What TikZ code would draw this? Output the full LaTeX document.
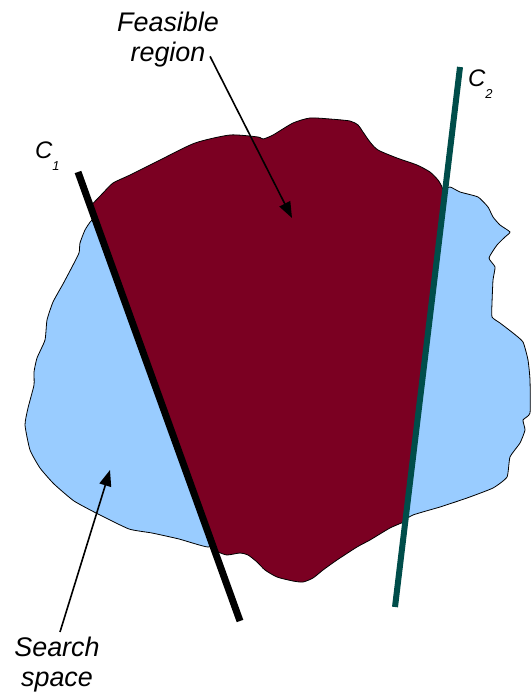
\documentclass[tikz,border=0pt]{standalone}
\usepackage{fontspec}
\setmainfont{Liberation Sans}
\usetikzlibrary{arrows.meta}
\definecolor{searchblue}{RGB}{153,204,255}
\definecolor{feasred}{RGB}{123,0,34}
\definecolor{cteal}{RGB}{0,77,74}
\newcommand{\csub}[1]{\raisebox{-12bp}{\fontsize{13}{13}\selectfont #1}}

\begin{document}
\begin{tikzpicture}[x=1bp,y=-1bp,
    tagtext/.style={font=\fontsize{27}{30}\selectfont\itshape,align=center,inner sep=0pt,anchor=north},
    ctext/.style={font=\fontsize{24}{24}\selectfont\itshape,inner sep=0pt,anchor=base west},
    pointer/.style={-{Triangle[length=16bp,width=12bp]},line width=1.6bp},
    arealine/.style={draw=black,line width=0.8bp,line join=round}]
\useasboundingbox (0,0) rectangle (531,693);
% search space
\draw[arealine,fill=searchblue] plot[smooth cycle,tension=0.3] coordinates {
  (92,220) (110,210) (150,180) (250,150) (350,140) (420,175) (440,190)
  (450,187) (460,192) (478,197) (488,207) (493,217) (500,225) (510,232)
  (505,237) (497,245) (489,258) (495,267) (493,280) (492,303) (492,317)
  (500,323) (513,333) (523,342) (528,360) (530,380) (530,413) (523,420)
  (525,430) (520,443) (510,457) (507,477) (493,488) (467,498) (440,507)
  (413,515) (395,525) (360,535) (300,555) (250,548) (225,540) (208,547)
  (179,539) (152,533) (129,529) (98,514) (74,501) (54,484) (40,468)
  (30,450) (25,425) (28,408) (34,385) (34,372) (37,358) (45,340) (47,320)
  (53,302) (63,284) (72,267) (79,253) (80,243) (85,230)};
% feasible region
\draw[arealine,fill=feasred] plot[smooth,tension=0.4] coordinates {
  (90.5,206) (103,193) (113,183) (130,175) (160,160) (195,143) (230,135)
  (258,137) (263,139) (273,135) (293,123) (310,118) (330,119) (350,121)
  (358,125) (363,132) (370,142) (378,150) (397,158) (417,165) (430,172)
  (438,180) (442,187) (444.5,196)}
  -- (404,522) -- plot[smooth,tension=0.4] coordinates {
  (404,522) (390,528) (370,540) (357,547) (337,560) (323,570) (313,578)
  (303,582) (293,581) (277,577) (265,570) (257,562) (248,555) (240,553)
  (227,555) (218,552) (215,551)} -- cycle;
% constraints
\coordinate (c1top) at (78,172);
\coordinate (c1bot) at (240,621);
\coordinate (c2top) at (460,67);
\coordinate (c2bot) at (395,607);
\draw[line width=7bp] (c1top) -- (c1bot);
\draw[line width=6bp,cteal] (c2top) -- (c2bot);
\node[ctext] (c1lab) at (35,158) {C\csub{1}};
\node[ctext] (c2lab) at (468,87) {C\csub{2}};
% labels
\node[tagtext] (feas) at (168,12) {Feasible\\region};
\node[tagtext] (search) at (57,637) {Search\\space};
\coordinate (feasTip) at (292,218);
\coordinate (searchTip) at (110,470);
\draw[pointer] ([shift={(-9,-11)}]feas.south east) -- (feasTip);
\draw[pointer] ([shift={(3,-5)}]search.north) -- (searchTip);
\end{tikzpicture}
\end{document}
